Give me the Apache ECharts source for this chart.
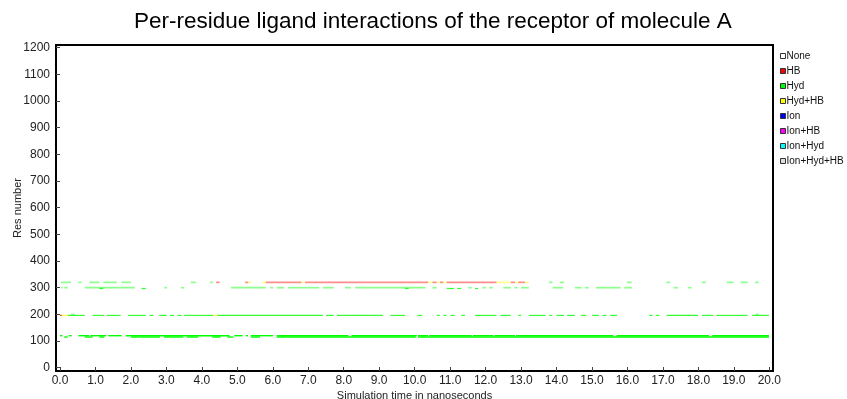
<!DOCTYPE html>
<html>
<head>
<meta charset="utf-8">
<script src="https://cdn.jsdelivr.net/npm/echarts@6/dist/echarts.min.js"></script>
<style>html,body{margin:0;padding:0;background:#fff}#c{width:847px;height:399px}</style>
</head>
<body>
<div id="c"></div>
<script>
// ---- DATA ----
const typeNames = ['None', 'HB', 'Hyd', 'Hyd+HB', 'Ion', 'Ion+HB', 'Ion+Hyd', 'Ion+Hyd+HB'];
const xTicks = [0,1,2,3,4,5,6,7,8,9,10,11,12,13,14,15,16,17,18,19,20];
const yTicks = [0,100,200,300,400,500,600,700,800,900,1000,1100,1200];

// segments: [start ns, end ns, residue]
const hydSegments = [
  // residue 320
  [0.03,0.31,320],[0.52,0.61,320],[0.83,1.11,320],[1.22,1.60,320],[1.73,2.00,320],[3.69,3.83,320],[4.23,4.31,320],
  [13.79,13.89,320],[14.10,14.21,320],[15.99,16.12,320],[17.10,17.20,320],[18.10,18.21,320],[18.80,18.99,320],
  [19.20,19.39,320],[19.60,19.70,320],
  // residue 300
  [0.03,0.08,300],[0.12,0.22,300],[0.70,2.11,300],[2.94,3.02,300],[3.41,3.50,300],[4.82,5.80,300],[5.92,6.01,300],
  [6.12,6.32,300],[6.43,7.31,300],[7.41,7.72,300],[8.03,8.20,300],[8.32,10.31,300],[10.50,10.62,300],[11.51,11.61,300],
  [11.91,12.01,300],[12.10,12.20,300],[12.50,12.71,300],[12.81,12.90,300],[13.00,13.22,300],[13.89,14.19,300],
  [14.52,14.71,300],[14.80,14.91,300],[15.11,15.81,300],[15.91,16.13,300],[17.30,17.42,300],[17.70,17.81,300],
  // residue 297
  [1.11,1.22,297],[2.30,2.42,297],[9.73,9.83,297],[10.90,11.11,297],[11.20,11.31,297],[11.70,11.79,297],
  // residue 200
  [0.31,0.42,200],[19.61,19.71,200],
  // residue 196
  [0.22,0.70,196],[0.92,1.24,196],[1.32,1.71,196],[1.92,2.42,196],[2.52,2.63,196],[2.80,3.01,196],[3.10,3.21,196],
  [3.31,3.43,196],[3.50,4.32,196],[4.43,7.41,196],[7.50,7.72,196],[7.81,9.10,196],[9.32,9.73,196],[10.08,10.21,196],
  [10.62,10.71,196],[10.81,10.90,196],[11.01,11.12,196],[11.31,11.42,196],[11.70,12.31,196],[12.42,12.71,196],
  [12.92,13.00,196],[13.22,13.69,196],[13.79,13.88,196],[14.00,14.21,196],[14.30,14.52,196],[14.69,14.83,196],
  [15.00,15.20,196],[15.30,15.41,196],[15.51,15.71,196],[16.61,16.71,196],[16.80,16.90,196],[17.10,17.99,196],
  [18.10,18.42,196],[18.51,19.39,196],[19.51,19.99,196],
  // residue 120
  [0.00,0.07,120],[0.25,0.33,120],[0.52,0.82,120],[0.86,1.30,120],[1.36,1.74,120],[1.85,4.78,120],[4.91,5.15,120],
  [5.24,5.30,120],[5.38,6.01,120],[6.11,8.13,120],[8.22,10.06,120],[10.09,10.38,120],[10.41,11.61,120],
  [11.64,12.22,120],[12.25,12.83,120],[12.86,15.60,120],[15.69,18.30,120],[18.39,19.99,120],
  // residue 115
  [0.12,0.22,115],[0.70,0.92,115],[1.11,1.25,115],[2.00,2.82,115],[2.93,3.48,115],[3.57,3.90,115],[4.29,4.53,115],
  [4.72,4.89,115],[5.38,5.64,115],[6.11,10.03,115],[10.09,19.99,115]
];
const hbSegments = [
  [4.40,4.50,320],[5.22,5.31,320],[5.80,6.81,320],[6.91,10.38,320],[10.50,10.62,320],[10.71,10.81,320],
  [10.90,12.31,320],[12.71,12.83,320],[12.92,13.11,320],
  [0.00,0.05,196]
];
const hydHbSegments = [
  [5.31,5.40,320],[5.70,5.80,320],[6.81,6.91,320],[10.38,10.50,320],[10.62,10.71,320],[10.81,10.90,320],
  [12.31,12.71,320],[12.83,12.92,320],[13.11,13.22,320],
  [0.05,0.22,196],[4.32,4.43,196]
];
const ionSegments = [];
const ionHbSegments = [];
const ionHydSegments = [];
const ionHydHbSegments = [];
const noneSegments = [];

// ---- STYLE ----
const typeColors = {
  'None': '#ffffff', 'HB': '#ff0000', 'Hyd': '#00ff00', 'Hyd+HB': '#ffff00',
  'Ion': '#0000ff', 'Ion+HB': '#ff00ff', 'Ion+Hyd': '#00ffff', 'Ion+Hyd+HB': '#dddddd'
};
function rowOpacity(res) {
  if (res >= 299) return 0.45;
  if (res >= 297) return 0.8;
  if (res >= 199) return 0.5;
  if (res >= 190) return 0.8;
  return 1;
}
function rowHeight(res) {
  if (res >= 299) return 1.7;
  if (res >= 190) return 1.2;
  return 1.4;
}

const segByType = {
  'None': noneSegments, 'HB': hbSegments, 'Hyd': hydSegments, 'Hyd+HB': hydHbSegments,
  'Ion': ionSegments, 'Ion+HB': ionHbSegments, 'Ion+Hyd': ionHydSegments, 'Ion+Hyd+HB': ionHydHbSegments
};

function makeSeries(name) {
  const color = typeColors[name];
  return {
    name: name,
    type: 'custom',
    clip: true,
    itemStyle: { color: color, borderColor: '#333', borderWidth: 1 },
    encode: { x: [0, 1], y: 2 },
    data: segByType[name],
    renderItem: function (params, api) {
      const res = api.value(2);
      const s = api.coord([api.value(0), res]);
      const e = api.coord([api.value(1), res]);
      const h = rowHeight(res);
      return {
        type: 'rect',
        shape: { x: s[0], y: s[1] - h / 2, width: Math.max(e[0] - s[0], 1), height: h },
        style: { fill: color, opacity: rowOpacity(res) }
      };
    }
  };
}

const FONT = 'Liberation Sans';
const chart = echarts.init(document.getElementById('c'), null, { renderer: 'canvas' });
chart.setOption({
  animation: false,
  backgroundColor: '#ffffff',
  title: {
    text: 'Per-residue ligand interactions of the receptor of molecule A',
    left: 134, top: 10, padding: 0,
    textStyle: { fontFamily: FONT, fontSize: 22.5, fontWeight: 'normal', color: '#000' }
  },
  legend: {
    orient: 'vertical', left: 780, top: 50, padding: 0,
    itemWidth: 5, itemHeight: 5, itemGap: 3,
    textStyle: { fontFamily: FONT, fontSize: 10, color: '#111', lineHeight: 12, padding: [0, 0, 0, -4] },
    data: typeNames.map(n => ({ name: n, icon: 'rect', itemStyle: { color: typeColors[n], borderColor: '#333', borderWidth: 1 } })),
    selectedMode: false
  },
  grid: { left: 56, right: 74, top: 45, bottom: 28, outerBoundsMode: 'none', containLabel: false,
    show: true, borderColor: '#000', borderWidth: 2 },
  xAxis: {
    type: 'value', min: -0.113, max: 20.104,
    name: 'Simulation time in nanoseconds', nameLocation: 'middle', nameGap: 19, nameMoveOverlap: false,
    nameTextStyle: { fontFamily: FONT, fontSize: 11, color: '#222' },
    axisLine: { show: true, onZero: false, lineStyle: { color: '#000', width: 2 } },
    axisTick: { show: true, inside: true, length: 4, customValues: xTicks, lineStyle: { color: '#444' } },
    axisLabel: { customValues: xTicks, margin: 4, fontFamily: FONT, fontSize: 12, color: '#222',
      formatter: v => v.toFixed(1) },
    splitLine: { show: false }
  },
  yAxis: {
    type: 'value', min: -12.4, max: 1210,
    name: 'Res number', nameLocation: 'middle', nameGap: 33, nameRotate: 90, nameMoveOverlap: false,
    nameTextStyle: { fontFamily: FONT, fontSize: 11, color: '#222' },
    axisLine: { show: true, onZero: false, lineStyle: { color: '#000', width: 2 } },
    axisTick: { show: true, inside: true, length: 4, customValues: yTicks, lineStyle: { color: '#444' } },
    axisLabel: { customValues: yTicks, margin: 6, fontFamily: FONT, fontSize: 12, color: '#222',
      formatter: v => String(v) },
    splitLine: { show: false }
  },
  series: typeNames.map(makeSeries)
});
</script>
</body>
</html>
